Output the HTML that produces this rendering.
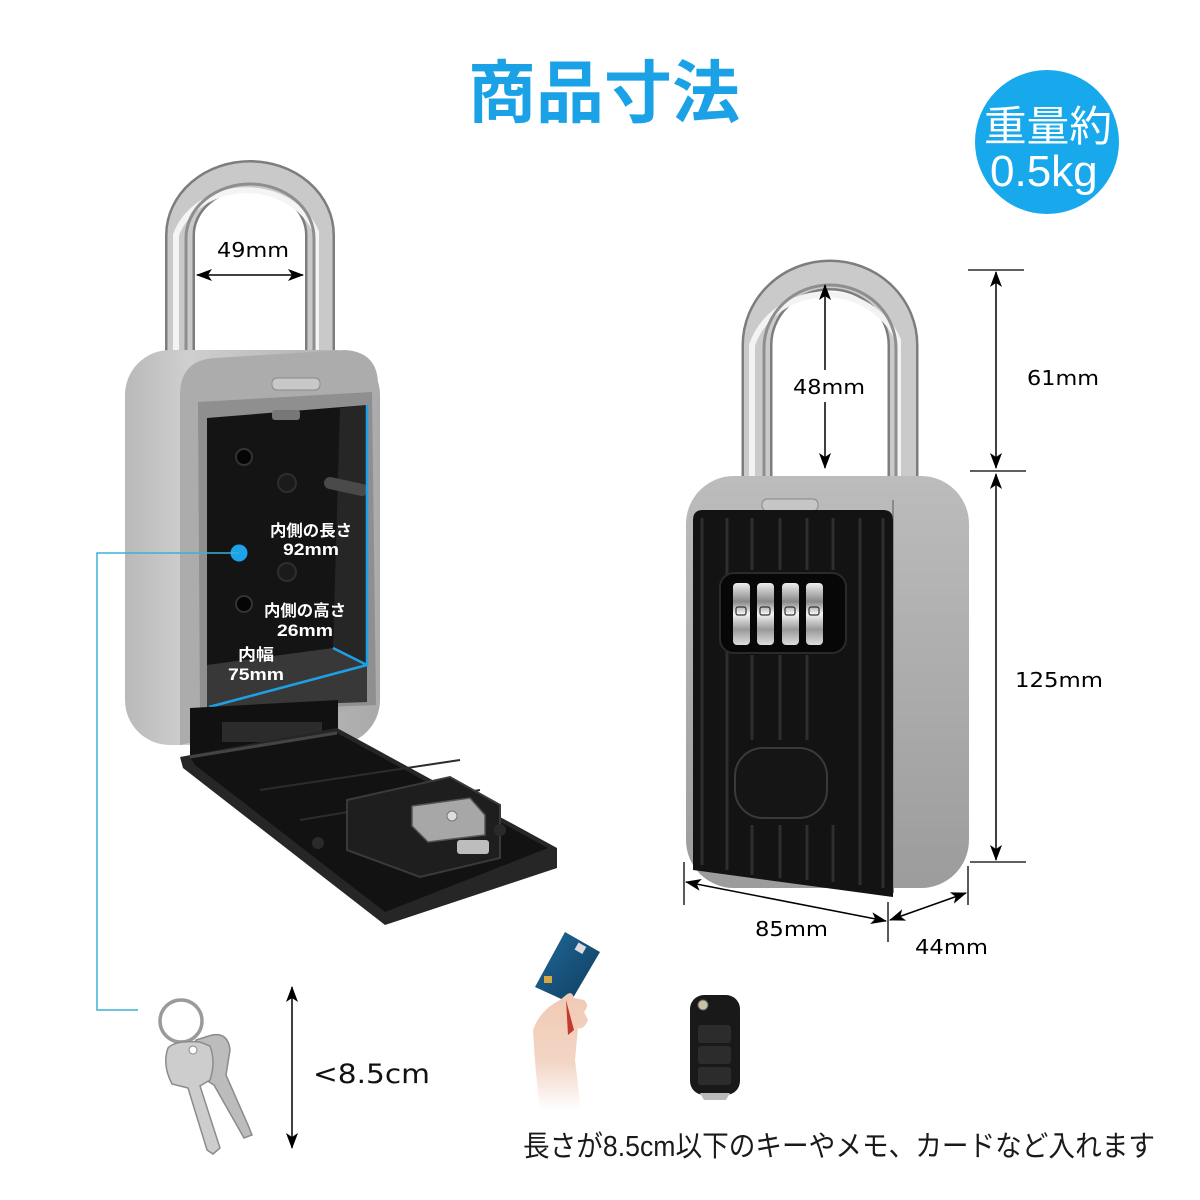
<!DOCTYPE html>
<html><head><meta charset="utf-8"><style>
html,body{margin:0;padding:0;background:#fff}
svg{display:block}
</style></head><body>
<svg width="1200" height="1200" viewBox="0 0 1200 1200" xmlns="http://www.w3.org/2000/svg">
<defs>
<marker id="ah" viewBox="0 0 16 12" refX="15" refY="6" markerWidth="16" markerHeight="12" orient="auto-start-reverse" markerUnits="userSpaceOnUse"><path d="M0,0 L16,6 L0,12 L4,6 z" fill="#000"/></marker>
<linearGradient id="gbody" x1="0" y1="0" x2="1" y2="0"><stop offset="0" stop-color="#b9b9b9"/><stop offset="0.25" stop-color="#cfcfcf"/><stop offset="1" stop-color="#a9a9a9"/></linearGradient>
<linearGradient id="gside" x1="0" y1="0" x2="0" y2="1"><stop offset="0" stop-color="#bcbcbc"/><stop offset="1" stop-color="#9c9c9c"/></linearGradient>
<linearGradient id="gdial" x1="0" y1="0" x2="0" y2="1"><stop offset="0" stop-color="#eee"/><stop offset="0.3" stop-color="#888"/><stop offset="0.5" stop-color="#f5f5f5"/><stop offset="0.75" stop-color="#999"/><stop offset="1" stop-color="#ddd"/></linearGradient>
<linearGradient id="gskin" x1="0" y1="0" x2="0" y2="1"><stop offset="0" stop-color="#f0c9b2"/><stop offset="0.6" stop-color="#f3d6c6"/><stop offset="1" stop-color="#ffffff"/></linearGradient>
<linearGradient id="gcard" x1="0" y1="0" x2="1" y2="1"><stop offset="0" stop-color="#1f6a99"/><stop offset="1" stop-color="#0f3b5e"/></linearGradient>
</defs>
<rect width="1200" height="1200" fill="#fff"/>

<!-- Title -->
<text x="468" y="117" font-family="'Liberation Sans','Noto Sans CJK JP',sans-serif" font-weight="bold" font-size="68" fill="#1ba2e6" textLength="272" lengthAdjust="spacingAndGlyphs">商品寸法</text>

<!-- weight circle -->
<circle cx="1047" cy="142" r="72" fill="#17a9ec"/>
<text x="984" y="141" font-family="'Liberation Sans','Noto Sans CJK JP',sans-serif" font-size="42" fill="#fff" textLength="128" lengthAdjust="spacingAndGlyphs">重量約</text>
<text x="990" y="186" font-family="'Liberation Sans',sans-serif" font-size="44" fill="#fff">0.5kg</text>

<!-- ===== LEFT LOCK ===== -->
<path d="M180,362 L180,235 A70,60 0 0 1 320,235 L320,352" fill="none" stroke="#7d7d7d" stroke-width="30"/>
<path d="M180,362 L180,235 A70,60 0 0 1 320,235 L320,352" fill="none" stroke="#c9c9c9" stroke-width="25"/>
<path d="M176,362 L176,235 A74,64 0 0 1 316,232 L316,352" fill="none" stroke="#f4f4f4" stroke-width="6"/>
<path d="M186,362 L186,238 A64,54 0 0 1 314,238 L314,352" fill="none" stroke="#8e8e8e" stroke-width="3"/>

<rect x="125" y="350" width="255" height="395" rx="45" fill="url(#gbody)"/>
<path d="M180,395 Q180,360 215,358 L345,350 Q378,352 378,385 L378,700 Q378,705 372,705 L180,745 Z" fill="#acacac"/>
<rect x="272" y="378" width="48" height="12" rx="5" fill="#c8c8c8" stroke="#8a8a8a" stroke-width="1"/>
<path d="M198,402 L372,392 L376,705 L200,712 Z" fill="#8f8f8f"/>
<path d="M207,418 L367,405 L367,700 L207,708 Z" fill="#141414"/>
<path d="M340,408 L367,405 L367,665 L333,648 Z" fill="#262626"/>
<path d="M207,665 L333,648 L367,665 L367,702 L207,708 Z" fill="#383838"/>
<rect x="272" y="410" width="28" height="10" rx="3" fill="#777"/>
<circle cx="244" cy="457" r="8" fill="#050505" stroke="#333" stroke-width="2"/>
<circle cx="287" cy="483" r="9" fill="#1b1b1b" stroke="#2e2e2e" stroke-width="2"/>
<circle cx="244" cy="604" r="8" fill="#050505" stroke="#333" stroke-width="2"/>
<circle cx="287" cy="572" r="9" fill="#1b1b1b" stroke="#2e2e2e" stroke-width="2"/>
<path d="M330,483 L362,490" stroke="#4a4a4a" stroke-width="12" stroke-linecap="round"/>
<path d="M367,405 L367,665 L209,707 M333,648 L367,665" fill="none" stroke="#1ea0e6" stroke-width="2.5"/>
<path d="M190,708 L338,700 L338,745 L190,765 Z" fill="#111"/>
<rect x="222" y="722" width="100" height="20" fill="#2b2b2b"/>
<path d="M180,757 L337,728 L557,848 L557,868 L385,925 L183,768 Z" fill="#262626"/>
<path d="M190,757 L337,733 L548,848 L385,912 L195,765 Z" fill="#121212"/>
<path d="M190,757 L337,733" stroke="#444" stroke-width="3"/>
<path d="M260,790 L460,760 M300,820 L480,790" stroke="#2c2c2c" stroke-width="2"/>
<path d="M347,800 L450,777 L500,805 L500,858 L420,877 L347,850 Z" fill="#1e1e1e" stroke="#3a3a3a" stroke-width="2"/>
<path d="M412,806 L470,798 L485,815 L485,835 L428,842 L412,826 Z" fill="#a7a7a7" stroke="#555" stroke-width="1.5"/>
<circle cx="452" cy="816" r="5" fill="#ddd" stroke="#777"/>
<rect x="457" y="840" width="32" height="14" rx="3" fill="#bdbdbd"/>
<circle cx="318" cy="843" r="6" fill="#2a2a2a"/>
<circle cx="500" cy="830" r="6" fill="#2a2a2a"/>

<g font-family="'Liberation Sans','Noto Sans CJK JP',sans-serif" fill="#fff" font-weight="bold">
<text x="270" y="536" font-size="16" textLength="82" lengthAdjust="spacingAndGlyphs">内側の長さ</text>
<text x="283" y="555" font-size="17" textLength="56" lengthAdjust="spacingAndGlyphs">92mm</text>
<text x="264" y="616" font-size="16" textLength="82" lengthAdjust="spacingAndGlyphs">内側の高さ</text>
<text x="277" y="636" font-size="17" textLength="56" lengthAdjust="spacingAndGlyphs">26mm</text>
<text x="238" y="660" font-size="16" textLength="36" lengthAdjust="spacingAndGlyphs">内幅</text>
<text x="228" y="680" font-size="17" textLength="56" lengthAdjust="spacingAndGlyphs">75mm</text>
</g>
<circle cx="239" cy="553" r="8.5" fill="#1ea3ea"/>
<polyline points="239,553 97,553 97,1010 138,1010" fill="none" stroke="#3bb0d6" stroke-width="1.5"/>

<line x1="197" y1="275" x2="303" y2="275" stroke="#000" stroke-width="1.5" marker-start="url(#ah)" marker-end="url(#ah)"/>
<text x="217" y="257" font-family="'DejaVu Sans',sans-serif" font-size="20" fill="#000" textLength="72" lengthAdjust="spacingAndGlyphs">49mm</text>

<!-- ===== RIGHT LOCK ===== -->
<path d="M757,480 L757,345 A73,70 0 0 1 903,345 L903,480" fill="none" stroke="#7d7d7d" stroke-width="31"/>
<path d="M757,480 L757,345 A73,70 0 0 1 903,345 L903,480" fill="none" stroke="#cacaca" stroke-width="26"/>
<path d="M752,480 L752,345 A78,74 0 0 1 898,340 L898,480" fill="none" stroke="#f3f3f3" stroke-width="6"/>
<path d="M764,480 L764,348 A66,63 0 0 1 896,348 L896,480" fill="none" stroke="#8e8e8e" stroke-width="3"/>

<rect x="686" y="476" width="283" height="412" rx="48" fill="url(#gside)"/>
<path d="M893,500 L893,893" stroke="#8a8a8a" stroke-width="2"/>
<rect x="762" y="499" width="56" height="12" rx="5" fill="#c6c6c6" stroke="#888" stroke-width="1"/>
<path d="M693,520 Q693,510 703,510 L883,510 Q893,510 893,520 L893,897 L693,870 Z" fill="#131313"/>
<g stroke="#2e2e2e" stroke-width="3">
<line x1="702" y1="518" x2="702" y2="865"/>
<line x1="727" y1="518" x2="727" y2="870"/>
<line x1="752" y1="518" x2="752" y2="570"/>
<line x1="780" y1="518" x2="780" y2="570"/>
<line x1="807" y1="518" x2="807" y2="570"/>
<line x1="833" y1="518" x2="833" y2="570"/>
<line x1="860" y1="518" x2="860" y2="885"/>
<line x1="883" y1="518" x2="883" y2="888"/>
<line x1="752" y1="655" x2="752" y2="740"/>
<line x1="780" y1="655" x2="780" y2="740"/>
<line x1="807" y1="655" x2="807" y2="740"/>
<line x1="752" y1="825" x2="752" y2="875"/>
<line x1="780" y1="825" x2="780" y2="878"/>
<line x1="807" y1="825" x2="807" y2="880"/>
<line x1="833" y1="825" x2="833" y2="882"/>
</g>
<rect x="720" y="573" width="126" height="80" rx="14" fill="#070707" stroke="#2a2a2a" stroke-width="2"/>
<rect x="733" y="583" width="17" height="62" rx="4" fill="url(#gdial)"/>
<rect x="757" y="583" width="17" height="62" rx="4" fill="url(#gdial)"/>
<rect x="782" y="583" width="17" height="62" rx="4" fill="url(#gdial)"/>
<rect x="806" y="583" width="17" height="62" rx="4" fill="url(#gdial)"/>
<g fill="none" stroke="#333" stroke-width="1.2">
<rect x="736" y="607" width="10" height="8" rx="2"/><rect x="760" y="607" width="10" height="8" rx="2"/><rect x="785" y="607" width="10" height="8" rx="2"/><rect x="809" y="607" width="10" height="8" rx="2"/>
</g>
<rect x="735" y="748" width="92" height="70" rx="28" fill="#151515" stroke="#3a3a3a" stroke-width="2"/>

<g stroke="#000" stroke-width="1.3">
<line x1="968" y1="270" x2="1024" y2="270"/>
<line x1="970" y1="471" x2="1026" y2="471"/>
<line x1="970" y1="862" x2="1026" y2="862"/>
<line x1="684" y1="862" x2="684" y2="905"/>
<line x1="888" y1="902" x2="888" y2="942"/>
<line x1="968" y1="866" x2="968" y2="905"/>
</g>
<line x1="996" y1="272" x2="996" y2="468" stroke="#000" stroke-width="1.5" marker-start="url(#ah)" marker-end="url(#ah)"/>
<line x1="996" y1="474" x2="996" y2="860" stroke="#000" stroke-width="1.5" marker-start="url(#ah)" marker-end="url(#ah)"/>
<line x1="825" y1="285" x2="825" y2="370" stroke="#000" stroke-width="1.5" marker-start="url(#ah)"/>
<line x1="825" y1="402" x2="825" y2="468" stroke="#000" stroke-width="1.5" marker-end="url(#ah)"/>
<line x1="686" y1="882" x2="886" y2="921" stroke="#000" stroke-width="1.5" marker-start="url(#ah)" marker-end="url(#ah)"/>
<line x1="890" y1="920" x2="966" y2="893" stroke="#000" stroke-width="1.5" marker-start="url(#ah)" marker-end="url(#ah)"/>

<g font-family="'DejaVu Sans',sans-serif" font-size="20" fill="#000">
<text x="793" y="394" textLength="72" lengthAdjust="spacingAndGlyphs">48mm</text>
<text x="1027" y="385" textLength="72" lengthAdjust="spacingAndGlyphs">61mm</text>
<text x="1015" y="687" textLength="88" lengthAdjust="spacingAndGlyphs">125mm</text>
<text x="755" y="936" textLength="73" lengthAdjust="spacingAndGlyphs">85mm</text>
<text x="915" y="954" textLength="73" lengthAdjust="spacingAndGlyphs">44mm</text>
</g>

<!-- ===== BOTTOM ===== -->
<circle cx="181" cy="1021" r="21" fill="none" stroke="#9a9a9a" stroke-width="3.5"/>
<path d="M212,1035 Q228,1032 230,1050 L226,1075 L248,1125 L252,1135 L244,1138 L214,1085 L198,1075 Q188,1055 196,1040 Z" fill="#bcbcbc" stroke="#8a8a8a" stroke-width="1.5"/>
<path d="M168,1048 Q175,1040 200,1042 L210,1046 Q216,1062 210,1080 L200,1086 L220,1148 L213,1154 L207,1150 L188,1088 L172,1084 Q162,1065 168,1048 Z" fill="#cdcdcd" stroke="#8c8c8c" stroke-width="1.5"/>
<circle cx="193" cy="1050" r="4" fill="#fff" stroke="#888"/>

<line x1="292" y1="987" x2="292" y2="1148" stroke="#000" stroke-width="1.5" marker-start="url(#ah)" marker-end="url(#ah)"/>
<text x="313" y="1083" font-family="'DejaVu Sans',sans-serif" font-size="27" fill="#111" textLength="117" lengthAdjust="spacingAndGlyphs">&lt;8.5cm</text>

<path d="M535,987 L565,932 L600,952 L570,1003 Z" fill="url(#gcard)"/>
<rect x="576" y="944" width="9" height="8" fill="#ddd" transform="rotate(30 580 948)"/>
<rect x="544" y="976" width="8" height="7" fill="#d6a640"/>
<path d="M533,1030 Q540,1010 560,1000 L566,995 Q572,990 574,998 L584,1000 Q590,1005 584,1012 L588,1020 Q584,1030 578,1028 L575,1060 Q580,1100 580,1110 L540,1110 Q535,1070 533,1030 Z" fill="url(#gskin)"/>
<path d="M566,1000 L574,1030 L568,1035 Z" fill="#c43b2e"/>

<rect x="690" y="995" width="50" height="100" rx="14" fill="#191919"/>
<circle cx="703" cy="1005" r="5" fill="#c8c2a8" stroke="#666"/>
<rect x="698" y="1025" width="33" height="18" rx="3" fill="#2c2c2c"/>
<rect x="698" y="1046" width="33" height="18" rx="3" fill="#2c2c2c"/>
<rect x="698" y="1067" width="33" height="18" rx="3" fill="#2c2c2c"/>
<path d="M700,1093 L730,1093 L726,1100 L704,1100 Z" fill="#bbb"/>

<text x="523" y="1156" font-family="'Liberation Sans','Noto Sans CJK JP',sans-serif" font-size="29" fill="#1a1a1a" textLength="632" lengthAdjust="spacingAndGlyphs">長さが8.5cm以下のキーやメモ、カードなど入れます</text>
</svg>
</body></html>
